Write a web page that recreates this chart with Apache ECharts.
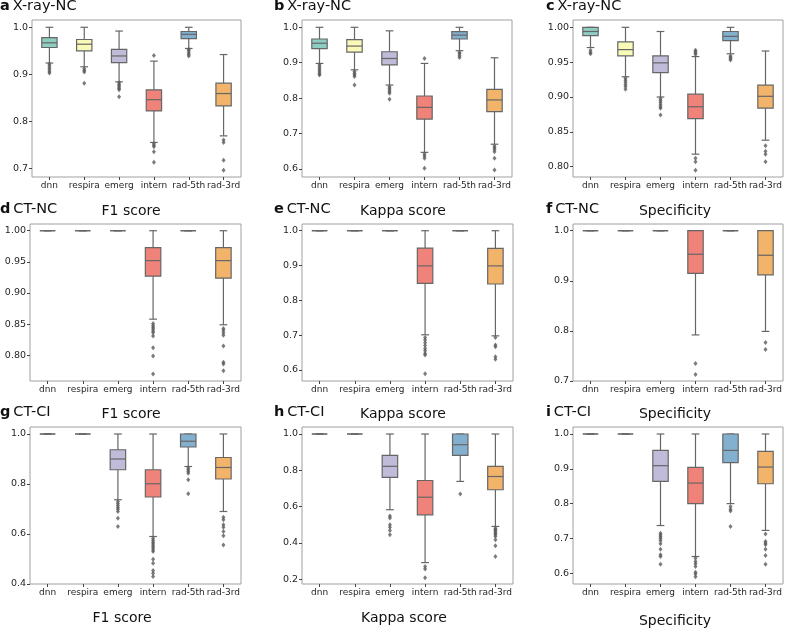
<!DOCTYPE html>
<html>
<head>
  <meta charset="utf-8">
  <title>Boxplots - X-ray / CT</title>
  <script src="https://cdn.jsdelivr.net/npm/echarts@6/dist/echarts.min.js"></script>
  <style>
    html, body { margin: 0; padding: 0; background: #fff; }
    #main { width: 787px; height: 631px; }
  </style>
</head>
<body>
<div id="main"></div>
<script>
  // categories + box colours (seaborn Set3, slightly muted)
  const categories = ['dnn', 'respira', 'emerg', 'intern', 'rad-5th', 'rad-3rd'];
  const boxColors = ['#8ecdc1', '#fafab8', '#bfbbd8', '#ef8379', '#84b0cf', '#f2b36b'];

  // [lower whisker, q1, median, q3, upper whisker] per category
  const xrayF1Box = [[0.924, 0.957, 0.967, 0.978, 1.0], [0.916, 0.950, 0.964, 0.974, 1.0], [0.884, 0.925, 0.939, 0.953, 0.992], [0.755, 0.822, 0.846, 0.867, 0.928], [0.955, 0.976, 0.985, 0.991, 1.0], [0.769, 0.833, 0.859, 0.881, 0.942]];
  const xrayF1Out = [[0.922, 0.918, 0.914, 0.910, 0.906, 0.903], [0.912, 0.908, 0.905, 0.881], [0.882, 0.879, 0.876, 0.873, 0.870, 0.867, 0.852], [0.940, 0.752, 0.749, 0.746, 0.735, 0.713], [0.953, 0.950, 0.946, 0.942, 0.939], [0.760, 0.755, 0.717, 0.696]];

  const xrayKappaBox = [[0.898, 0.940, 0.955, 0.967, 1.0], [0.880, 0.930, 0.947, 0.965, 1.0], [0.837, 0.894, 0.912, 0.931, 0.990], [0.647, 0.741, 0.774, 0.806, 0.898], [0.934, 0.967, 0.978, 0.988, 1.0], [0.670, 0.762, 0.795, 0.825, 0.914]];
  const xrayKappaOut = [[0.894, 0.889, 0.884, 0.879, 0.874, 0.869, 0.865], [0.875, 0.870, 0.866, 0.861, 0.837], [0.832, 0.828, 0.823, 0.818, 0.814, 0.797], [0.912, 0.642, 0.637, 0.630, 0.602], [0.929, 0.925, 0.920, 0.915], [0.665, 0.660, 0.655, 0.649, 0.630, 0.597]];

  const xraySpecBox = [[0.971, 0.988, 0.994, 1.0, 1.0], [0.929, 0.959, 0.968, 0.979, 1.0], [0.900, 0.935, 0.949, 0.959, 0.994], [0.818, 0.869, 0.886, 0.904, 0.958], [0.962, 0.981, 0.987, 0.994, 1.0], [0.838, 0.884, 0.901, 0.917, 0.966]];
  const xraySpecOut = [[0.967, 0.964, 0.962], [0.927, 0.924, 0.921, 0.918, 0.915, 0.911], [0.898, 0.895, 0.892, 0.889, 0.886, 0.884, 0.874], [0.967, 0.965, 0.963, 0.961, 0.812, 0.807, 0.795], [0.959, 0.957, 0.955, 0.953], [0.830, 0.822, 0.818, 0.807]];

  const ctncF1Box = [[1, 1, 1, 1, 1], [1, 1, 1, 1, 1], [1, 1, 1, 1, 1], [0.858, 0.927, 0.952, 0.973, 1.0], [1, 1, 1, 1, 1], [0.849, 0.924, 0.952, 0.973, 1.0]];
  const ctncF1Out = [[], [], [], [0.851, 0.848, 0.845, 0.842, 0.839, 0.836, 0.831, 0.812, 0.799, 0.770], [], [0.843, 0.840, 0.836, 0.832, 0.815, 0.789, 0.786, 0.775]];

  const ctncKappaBox = [[1, 1, 1, 1, 1], [1, 1, 1, 1, 1], [1, 1, 1, 1, 1], [0.701, 0.849, 0.899, 0.950, 1.0], [1, 1, 1, 1, 1], [0.698, 0.847, 0.899, 0.949, 1.0]];
  const ctncKappaOut = [[], [], [], [0.693, 0.686, 0.678, 0.670, 0.662, 0.655, 0.647, 0.643, 0.589], [], [0.693, 0.672, 0.667, 0.638, 0.631]];

  const ctncSpecBox = [[1, 1, 1, 1, 1], [1, 1, 1, 1, 1], [1, 1, 1, 1, 1], [0.792, 0.915, 0.953, 1.0, 1.0], [1, 1, 1, 1, 1], [0.799, 0.912, 0.951, 1.0, 1.0]];
  const ctncSpecOut = [[], [], [], [0.735, 0.713], [], [0.777, 0.763]];

  const ctciF1Box = [[1, 1, 1, 1, 1], [1, 1, 1, 1, 1], [0.737, 0.857, 0.900, 0.937, 1.0], [0.590, 0.748, 0.801, 0.857, 1.0], [0.870, 0.948, 0.971, 1.0, 1.0], [0.690, 0.820, 0.866, 0.906, 1.0]];
  const ctciF1Out = [[], [], [0.730, 0.722, 0.714, 0.706, 0.699, 0.690, 0.663, 0.630], [0.583, 0.575, 0.567, 0.560, 0.552, 0.545, 0.537, 0.530, 0.499, 0.483, 0.454, 0.443, 0.430], [0.864, 0.857, 0.850, 0.843, 0.817, 0.761], [0.667, 0.657, 0.637, 0.627, 0.610, 0.593, 0.556]];

  const ctciKappaBox = [[1, 1, 1, 1, 1], [1, 1, 1, 1, 1], [0.583, 0.761, 0.822, 0.882, 1.0], [0.292, 0.555, 0.652, 0.744, 1.0], [0.739, 0.882, 0.941, 1.0, 1.0], [0.491, 0.693, 0.766, 0.822, 1.0]];
  const ctciKappaOut = [[], [], [0.549, 0.537, 0.500, 0.487, 0.469, 0.445], [0.270, 0.257, 0.209], [0.669], [0.481, 0.474, 0.467, 0.460, 0.452, 0.445, 0.435, 0.417, 0.384, 0.325]];

  const ctciSpecBox = [[1, 1, 1, 1, 1], [1, 1, 1, 1, 1], [0.737, 0.864, 0.909, 0.953, 1.0], [0.648, 0.800, 0.859, 0.904, 1.0], [0.800, 0.918, 0.953, 1.0, 1.0], [0.723, 0.857, 0.905, 0.950, 1.0]];
  const ctciSpecOut = [[], [], [0.715, 0.710, 0.705, 0.700, 0.693, 0.685, 0.669, 0.653, 0.648, 0.626], [0.643, 0.634, 0.627, 0.619, 0.603, 0.598, 0.590], [0.792, 0.784, 0.779, 0.734], [0.713, 0.691, 0.686, 0.682, 0.669, 0.651, 0.626]];

  // y tick values per panel
  const ticksA = [0.7, 0.8, 0.9, 1.0];
  const ticksB = [0.6, 0.7, 0.8, 0.9, 1.0];
  const ticksC = [0.80, 0.85, 0.90, 0.95, 1.00];
  const ticksD = [0.80, 0.85, 0.90, 0.95, 1.00];
  const ticksE = [0.6, 0.7, 0.8, 0.9, 1.0];
  const ticksF = [0.7, 0.8, 0.9, 1.0];
  const ticksG = [0.4, 0.6, 0.8, 1.0];
  const ticksH = [0.2, 0.4, 0.6, 0.8, 1.0];
  const ticksI = [0.6, 0.7, 0.8, 0.9, 1.0];

  const font = 'DejaVu Sans';
  const edge = '#666666';

  // layout for each of the 9 axes
  const panels = [
    { box: xrayF1Box, out: xrayF1Out, ticks: ticksA, dec: 1, min: 0.6815, max: 1.0155, left: 32, top: 20, width: 209 },
    { box: xrayKappaBox, out: xrayKappaOut, ticks: ticksB, dec: 1, min: 0.5774, max: 1.0206, left: 302, top: 20, width: 210 },
    { box: xraySpecBox, out: xraySpecOut, ticks: ticksC, dec: 2, min: 0.7852, max: 1.0105, left: 573, top: 20, width: 210 },
    { box: ctncF1Box, out: ctncF1Out, ticks: ticksD, dec: 2, min: 0.7587, max: 1.0108, left: 30, top: 224, width: 211 },
    { box: ctncKappaBox, out: ctncKappaOut, ticks: ticksE, dec: 1, min: 0.5683, max: 1.0193, left: 302, top: 224, width: 211 },
    { box: ctncSpecBox, out: ctncSpecOut, ticks: ticksF, dec: 1, min: 0.7, max: 1.0134, left: 573, top: 224, width: 210 },
    { box: ctciF1Box, out: ctciF1Out, ticks: ticksG, dec: 1, min: 0.4, max: 1.028, left: 30, top: 427, width: 211 },
    { box: ctciKappaBox, out: ctciKappaOut, ticks: ticksH, dec: 1, min: 0.174, max: 1.0386, left: 302, top: 427, width: 211 },
    { box: ctciSpecBox, out: ctciSpecOut, ticks: ticksI, dec: 1, min: 0.569, max: 1.0201, left: 573, top: 427, width: 210 }
  ];

  function renderBox(params, api) {
    const i = api.value(0);
    const low = api.coord([i, api.value(1)]);
    const q1 = api.coord([i, api.value(2)]);
    const med = api.coord([i, api.value(3)]);
    const q3 = api.coord([i, api.value(4)]);
    const high = api.coord([i, api.value(5)]);
    const w = api.size([1, 0])[0] * 0.44;
    const x = low[0];
    const ls = { stroke: edge, lineWidth: 1.2, fill: null };
    return {
      type: 'group',
      children: [
        { type: 'line', shape: { x1: x, y1: high[1], x2: x, y2: q3[1] }, style: ls },
        { type: 'line', shape: { x1: x, y1: q1[1], x2: x, y2: low[1] }, style: ls },
        { type: 'line', shape: { x1: x - w / 4, y1: high[1], x2: x + w / 4, y2: high[1] }, style: ls },
        { type: 'line', shape: { x1: x - w / 4, y1: low[1], x2: x + w / 4, y2: low[1] }, style: ls },
        { type: 'rect', shape: { x: x - w / 2, y: q3[1], width: w, height: q1[1] - q3[1] },
          style: { fill: boxColors[i], stroke: edge, lineWidth: 1.2 } },
        { type: 'line', shape: { x1: x - w / 2, y1: med[1], x2: x + w / 2, y2: med[1] }, style: ls }
      ]
    };
  }

  const grids = [], xAxes = [], yAxes = [], series = [];
  panels.forEach(function (p, k) {
    grids.push({
      left: p.left, top: p.top, width: p.width, height: 157,
      show: true, borderColor: '#a0a0a0', borderWidth: 1, backgroundColor: 'transparent'
    });
    xAxes.push({
      type: 'category', gridIndex: k, data: categories,
      axisLine: { show: false },
      axisTick: { show: true, alignWithLabel: true, length: 3, lineStyle: { color: '#444' } },
      axisLabel: { interval: 0, fontFamily: font, fontSize: 9, color: '#262626', margin: 4 },
      splitLine: { show: false }
    });
    yAxes.push({
      type: 'value', gridIndex: k, min: p.min, max: p.max,
      axisLine: { show: false },
      axisTick: { show: true, length: 3, customValues: p.ticks, lineStyle: { color: '#444' } },
      axisLabel: {
        customValues: p.ticks, fontFamily: font, fontSize: 9.5, color: '#262626', margin: 4,
        formatter: (function (d) { return function (v) { return v.toFixed(d); }; })(p.dec)
      },
      splitLine: { show: false }
    });
    series.push({
      type: 'custom', xAxisIndex: k, yAxisIndex: k,
      renderItem: renderBox,
      data: p.box.map(function (b, i) { return [i].concat(b); }),
      z: 2
    });
    const pts = [];
    p.out.forEach(function (vals, i) {
      vals.forEach(function (v) { pts.push([i, v]); });
    });
    series.push({
      type: 'scatter', xAxisIndex: k, yAxisIndex: k, data: pts,
      symbol: 'diamond', symbolSize: [4, 5],
      itemStyle: { color: '#5a5a5a' }, z: 3
    });
  });

  // panel titles
  const letters = ['a', 'b', 'c', 'd', 'e', 'f', 'g', 'h', 'i'];
  const rowNames = ['X-ray-NC', 'CT-NC', 'CT-CI'];
  const metricNames = ['F1 score', 'Kappa score', 'Specificity'];
  const titleX = [0, 274, 546];
  const titleY = [8, 211, 414];
  const metricX = [131, 403, 675];
  const footX = [122, 404, 675];
  const footY = [618, 618, 621];

  const graphics = [];
  letters.forEach(function (l, k) {
    const r = Math.floor(k / 3), c = k % 3;
    graphics.push({
      type: 'text', left: titleX[c], top: titleY[r] - 9,
      style: {
        text: '{b|' + l + '}\u2009' + rowNames[r],
        font: '14.5px "DejaVu Sans"', fill: '#111',
        rich: { b: { fontWeight: 'bold', fontSize: 14.5, fontFamily: font, fill: '#111' } }
      }
    });
    if (r > 0) {
      graphics.push({
        type: 'text', x: metricX[c], y: titleY[r],
        style: { text: metricNames[c], font: '14px "DejaVu Sans"', fill: '#111', textAlign: 'center', textVerticalAlign: 'middle' }
      });
    }
  });
  metricNames.forEach(function (m, c) {
    graphics.push({
      type: 'text', x: footX[c], y: footY[c],
      style: { text: m, font: '14px "DejaVu Sans"', fill: '#111', textAlign: 'center', textVerticalAlign: 'middle' }
    });
  });

  const chart = echarts.init(document.getElementById('main'));
  chart.setOption({
    animation: false,
    backgroundColor: '#fff',
    grid: grids,
    xAxis: xAxes,
    yAxis: yAxes,
    graphic: graphics,
    series: series
  });
</script>
</body>
</html>
